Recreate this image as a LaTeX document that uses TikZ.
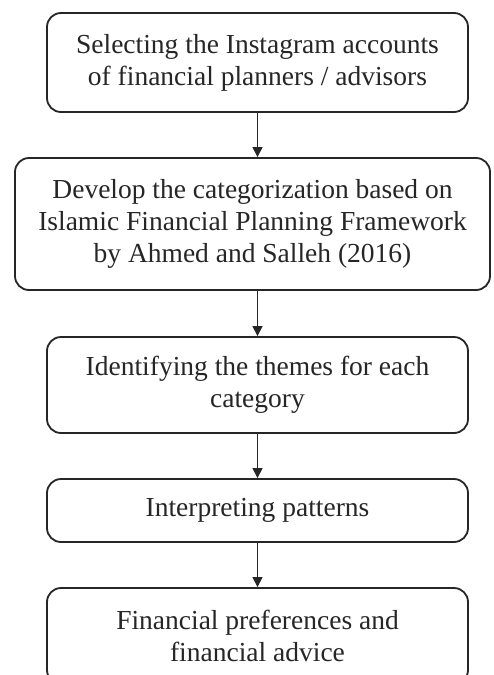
\documentclass[tikz,border=0pt]{standalone}
\usepackage{fontspec}
\setmainfont{Liberation Serif}
\usetikzlibrary{arrows.meta}
\begin{document}
\begin{tikzpicture}[x=1pt,y=-1pt,
  box/.style={draw=black!85,line width=1.8pt,rounded corners=14pt,align=center,
    inner sep=0pt,font=\fontsize{27.5}{32}\selectfont,text=black!85},
  arr/.style={draw=black!85,line width=1.1pt,-{Triangle[width=10pt,length=10pt]}}]
\useasboundingbox (0,0) rectangle (493,675);
\clip (0,0) rectangle (493,675);
\fill[white] (0,0) rectangle (493,675);
\node[box,minimum width=421pt,minimum height=99pt] (b1) at (257.5,62.5)
  {Selecting the Instagram accounts\\of financial planners / advisors};
\node[box,minimum width=475pt,minimum height=132pt] (b2) at (252.5,224)
  {Develop the categorization based on\\Islamic Financial Planning Framework\\by Ahmed and Salleh (2016)};
\node[box,minimum width=421pt,minimum height=96pt] (b3) at (257.5,385)
  {Identifying the themes for each\\category};
\node[box,minimum width=421pt,minimum height=63pt] (b4) at (257.5,510.5)
  {Interpreting patterns};
\node[box,minimum width=421pt,minimum height=96pt] (b5) at (257.5,636)
  {Financial preferences and\\financial advice};
\draw[arr] (b1.south) -- (b1.south |- b2.north);
\draw[arr] (b1.south |- b2.south) -- (b1.south |- b3.north);
\draw[arr] (b3.south) -- (b4.north);
\draw[arr] (b4.south) -- (b5.north);
\end{tikzpicture}
\end{document}
